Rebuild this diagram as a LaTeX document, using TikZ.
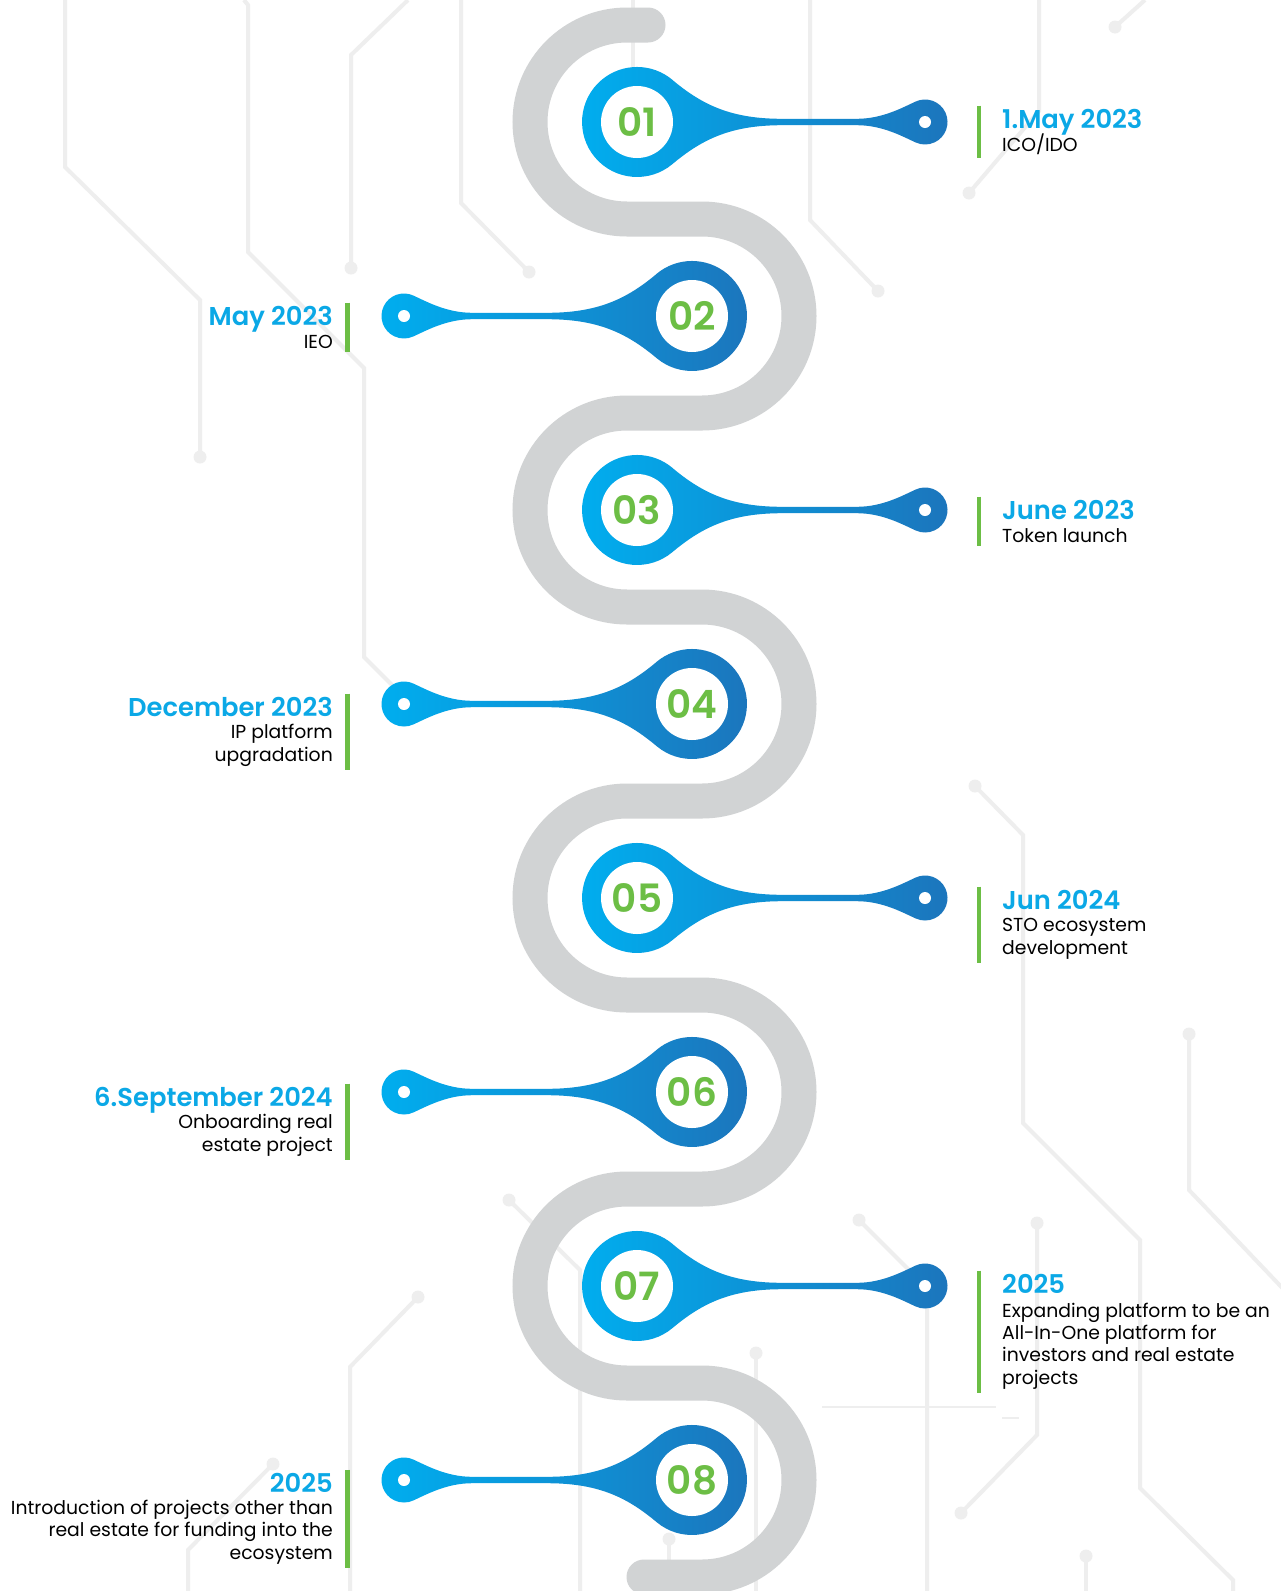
\documentclass[tikz,border=0pt]{standalone}
\usepackage{fontspec}
\setmainfont{Poppins}
\newfontfamily\titlefont{Poppins SemiBold}

\definecolor{trackgray}{HTML}{D1D3D4}
\definecolor{circuitgray}{HTML}{EEEEEE}
\definecolor{pincyan}{HTML}{00AEEF}
\definecolor{pinblue}{HTML}{1C75BC}
\definecolor{numgreen}{HTML}{6CBE45}
\definecolor{datecyan}{HTML}{0BA8E6}

\tikzset{
  track/.style={draw=trackgray, line width=35pt, line cap=round},
  circuit/.style={draw=circuitgray, line width=4pt},
  pinnum/.style={font=\titlefont\fontsize{39}{39}\selectfont, text=numgreen, inner sep=0pt},
  datetext/.style={font=\titlefont\fontsize{25.8}{28}\selectfont, text=datecyan, inner sep=0pt},
  desctext/.style={font=\fontsize{18.8}{22.3}\selectfont, text=black, inner sep=0pt},
  greenbar/.style={draw=numgreen, line width=4.5pt}
}

% big centre x, y, side (1 = head right, -1 = head left), number
\newcommand{\drawpin}[4]{%
  \begin{scope}[shift={(#1,#2)}]
    \shade[left color=pincyan, right color=pinblue]
      ({#3*35.4},-42.1) .. controls ({#3*66},-16.4) and ({#3*95},-3.2) .. ({#3*145},-3.2)
      -- ({#3*220},-3.2) .. controls ({#3*245},-3.2) and ({#3*264.9},-14.1) .. ({#3*278.5},-20.4)
      arc[start angle={-90-(#3)*25}, end angle={-90-(#3)*25+(#3)*230}, radius=22.5]
      .. controls ({#3*264.9},14.1) and ({#3*245},3.2) .. ({#3*220},3.2)
      -- ({#3*145},3.2) .. controls ({#3*95},3.2) and ({#3*66},16.4) .. ({#3*35.4},42.1)
      arc[start angle={90-(#3)*40}, end angle={90-(#3)*40+(#3)*260}, radius=55] -- cycle;
    \fill[white] (0,0) circle[radius=36];
    \fill[white] ({#3*288},0) circle[radius=6];
    \node[pinnum] (n#4) at (0,0) {#4};
  \end{scope}}

\begin{document}
\begin{tikzpicture}[x=1pt,y=-1pt]
  \fill[white] (0,0) rectangle (1281,1591);
  \useasboundingbox (0,0) rectangle (1281,1591);

  % circuit lines in the background
  \draw[circuit] (65,0) -- (65,167) -- (200,300) -- (200,457);
  \draw[circuit] (244,0) -- (248,5) -- (248,252) -- (364,368) -- (364,657) -- (395,688);
  \draw[circuit] (408,0) -- (351,55) -- (351,268);
  \draw[circuit] (461,0) -- (461,203) -- (529,272);
  \draw[circuit] (633,0) -- (633,122);
  \draw[circuit] (810,0) -- (810,220) -- (878,291);
  \draw[circuit] (1039,0) -- (1039,111) -- (969,193);
  \draw[circuit] (1145,0) -- (1115,27);
  \draw[circuit] (975,786) -- (1023,835) -- (1023,1123) -- (1140,1240) -- (1140,1488) -- (1233,1580) -- (1233,1591);
  \draw[circuit] (1189,1034) -- (1189,1190) -- (1290,1296);
  \draw[circuit] (859,1220) -- (927,1288) -- (927,1591);
  \draw[circuit] (1037,1223) -- (1037,1435) -- (961,1513);
  \draw[circuit] (756,1353) -- (756,1591);
  \draw[circuit] (669,1539) -- (669,1591);
  \draw[circuit] (1086,1556) -- (1086,1591);
  \draw[circuit] (509,1200) -- (580,1270) -- (580,1591);
  \draw[circuit] (418,1297) -- (350,1367) -- (350,1591);
  \draw[circuit] (273,1464) -- (188,1550) -- (188,1591);
  \draw[circuitgray, line width=1.5pt] (822,1407) -- (996,1407) (1002,1418) -- (1019,1418);
  \foreach \p in {(200,457),(351,268),(529,272),(878,291),(969,193),(1115,27),
                  (975,786),(1189,1034),(859,1220),(1037,1223),(961,1513),(756,1353),
                  (669,1539),(1086,1556),(509,1200),(418,1297),(273,1464)}
    \fill[circuitgray] \p circle[radius=6.5];

  % winding track
  \draw[track] (648,25) -- (627,25)
    \foreach \k in {1,2,3} {
      arc[start angle=-90, end angle=-270, radius=97] -- ++(75,0)
      arc[start angle=-90, end angle=90, radius=97] -- ++(-75,0)
    }
    arc[start angle=-90, end angle=-270, radius=97] -- ++(75,0)
    arc[start angle=-90, end angle=90, radius=97] -- ++(-58,0);

  % pins
  \drawpin{637}{122}{1}{01}
  \drawpin{692}{316}{-1}{02}
  \drawpin{637}{510}{1}{03}
  \drawpin{692}{704}{-1}{04}
  \drawpin{637}{898}{1}{05}
  \drawpin{692}{1092}{-1}{06}
  \drawpin{637}{1286}{1}{07}
  \drawpin{692}{1480}{-1}{08}

  % right labels (body placed by the baseline of its last line)
  \node[datetext, anchor=base west] (d1) at (1002,128) {1.May 2023};
  \node[desctext, anchor=base west, align=left] (t1) at (1002,151) {ICO/IDO};
  \node[datetext, anchor=base west] (d3) at (1002,519) {June 2023};
  \node[desctext, anchor=base west, align=left] (t3) at (1002,542) {Token launch};
  \node[datetext, anchor=base west] (d5) at (1002,909) {Jun 2024};
  \node[desctext, anchor=base west, align=left] (t5) at (1002,954) {STO ecosystem\\development};
  \node[datetext, anchor=base west] (d7) at (1002,1293) {2025};
  \node[desctext, anchor=base west, align=left] (t7) at (1002,1384)
    {Expanding platform to be an\\All-In-One platform for\\investors and real estate\\projects};

  % left labels
  \node[datetext, anchor=base east] (d2) at (333,325) {May 2023};
  \node[desctext, anchor=base east, align=right] (t2) at (333,348) {IEO};
  \node[datetext, anchor=base east] (d4) at (333,716) {December 2023};
  \node[desctext, anchor=base east, align=right] (t4) at (333,761) {IP platform\\upgradation};
  \node[datetext, anchor=base east] (d6) at (333,1106) {6.September 2024};
  \node[desctext, anchor=base east, align=right] (t6) at (333,1151) {Onboarding real\\estate project};
  \node[datetext, anchor=base east] (d8) at (333,1492) {2025};
  \node[desctext, anchor=base east, align=right] (t8) at (333,1559)
    {Introduction of projects other than\\real estate for funding into the\\ecosystem};

  % green bars
  \foreach \i in {1,3,5,7}
    \draw[greenbar] ([xshift=-23pt,yshift=3pt]d\i.north west) -- ([xshift=-23pt,yshift=-4pt]t\i.south west);
  \foreach \i in {2,4,6,8}
    \draw[greenbar] ([xshift=14.5pt,yshift=3pt]d\i.north east) -- ([xshift=14.5pt,yshift=-4pt]t\i.south east);
\end{tikzpicture}
\end{document}
